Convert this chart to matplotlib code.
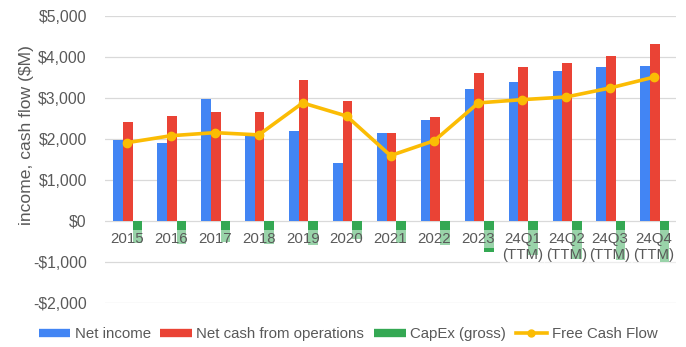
import numpy as np
import matplotlib.pyplot as plt
from matplotlib.lines import Line2D

plt.rcParams['font.family'] = ['Liberation Sans', 'DejaVu Sans']

# ------------------------------------------------------------
# Datos ($M)
# ------------------------------------------------------------
categories = ['2015', '2016', '2017', '2018', '2019', '2020', '2021', '2022', '2023',
              '24Q1\n(TTM)', '24Q2\n(TTM)', '24Q3\n(TTM)', '24Q4\n(TTM)']
net_income = [1975, 1900, 2975, 2100, 2195, 1415, 2150, 2465, 3220, 3390, 3660, 3755, 3780]
net_cash_ops = [2415, 2560, 2660, 2660, 3440, 2925, 2150, 2540, 3610, 3755, 3855, 4025, 4315]
capex = [-540, -550, -505, -555, -585, -440, -540, -585, -750, -830, -925, -950, -990]
fcf = [1910, 2080, 2155, 2100, 2880, 2560, 1595, 1960, 2880, 2960, 3025, 3245, 3510]

C_BLUE = '#4285F4'
C_RED = '#EA4335'
C_GREEN = '#34A853'
C_YELLOW = '#FBBC04'
C_TEXT = '#595959'

x = np.arange(len(categories))
w = 0.22

fig = plt.figure(figsize=(6.86, 3.47), dpi=100)
ax = fig.add_axes([105 / 686, 1 - 303 / 347, 571 / 686, 287 / 347])

ax.bar(x - w + 0.02, net_income, w, color=C_BLUE, zorder=2)
ax.bar(x + 0.02, net_cash_ops, w, color=C_RED, zorder=2)
ax.bar(x + w + 0.02, capex, w, color=C_GREEN, zorder=2)
ax.plot(x, fcf, '-o', color=C_YELLOW, lw=2.6, ms=6, zorder=4)

# etiquetas de categoria sobre el eje cero (con fondo semitransparente)
for xi, lab in zip(x, categories):
    ax.annotate(lab, xy=(xi, 0), xytext=(0, -8), textcoords='offset points',
                ha='center', va='top', fontsize=10.8, color=C_TEXT,
                linespacing=1.15, zorder=3,
                bbox=dict(facecolor='white', alpha=0.5, edgecolor='none', pad=1.5))

ax.set_xlim(-0.5, len(categories) - 0.5)
ax.set_ylim(-2000, 5000)
ax.set_yticks(np.arange(-2000, 5001, 1000))
ax.set_yticklabels([f'-${-v:,}' if v < 0 else f'${v:,}' for v in range(-2000, 5001, 1000)])
ax.set_xticks([])
ax.tick_params(axis='y', length=0, pad=13, labelsize=11.3, labelcolor=C_TEXT)
ax.grid(axis='y', color='#d9d9d9', lw=0.9)
ax.set_axisbelow(True)
for s in ax.spines.values():
    s.set_visible(False)

fig.text(27 / 686, 1 - 135 / 347, 'income, cash flow ($M)', rotation=90,
         ha='center', va='center', fontsize=12.6, color=C_TEXT)

handles = [Line2D([], [], color=C_BLUE, lw=6, solid_capstyle='butt'),
           Line2D([], [], color=C_RED, lw=6, solid_capstyle='butt'),
           Line2D([], [], color=C_GREEN, lw=6, solid_capstyle='butt'),
           Line2D([], [], color=C_YELLOW, lw=2.6, marker='o', ms=5)]
labels = ['Net income', 'Net cash from operations', 'CapEx (gross)', 'Free Cash Flow']
fig.legend(handles, labels, loc='center', bbox_to_anchor=(348 / 686, 1 - 334 / 347),
           ncol=4, frameon=False, fontsize=10.8, labelcolor=C_TEXT,
           handlelength=2.1, handletextpad=0.3, columnspacing=0.65)

plt.savefig('out.png', dpi=100)
